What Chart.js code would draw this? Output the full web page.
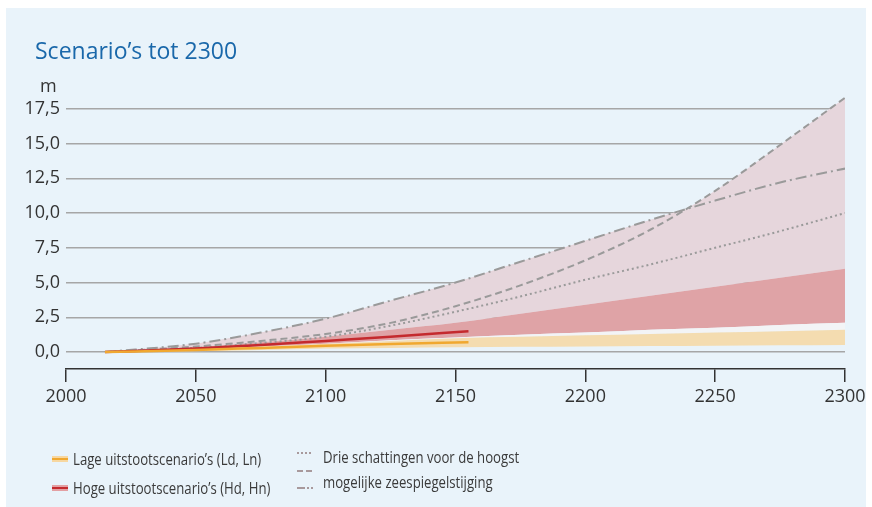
<!DOCTYPE html>
<html>
<head>
<meta charset="utf-8">
<script src="https://cdn.jsdelivr.net/npm/chart.js@4.4.0/dist/chart.umd.min.js"></script>
<style>
  body { margin: 0; background: #fff; }
  #panel { position: absolute; left: 6px; top: 8px; width: 860px; height: 499px; background: #e9f3fa; }
  #chart { position: absolute; left: 0; top: 0; }
  .txt { position: absolute; font-family: 'Open Sans', sans-serif; color: #333; white-space: nowrap; }
  #title { left: 35px; top: 39px; font-size: 23px; line-height: 23px; color: #1a68aa; }
  #unit { left: 40px; top: 76px; font-size: 18px; line-height: 18px; }
  .leg { font-size: 17px; line-height: 20px; color: #3a3a3a; transform: scaleX(0.775); transform-origin: left center; }
  .sw { position: absolute; width: 16px; }
</style>
</head>
<body>
<div id="panel"></div>
<canvas id="chart" width="872" height="507"></canvas>
<div class="txt" id="title">Scenario’s tot 2300</div>
<div class="txt" id="unit">m</div>

<div class="sw" style="left:52px;top:456px;height:6px;background:linear-gradient(#f7d7a0 0 30%,#f0a830 30% 70%,#f7d7a0 70%);"></div>
<div class="txt leg" style="left:73px;top:449px;">Lage uitstootscenario’s (Ld, Ln)</div>
<div class="sw" style="left:52px;top:485px;height:6px;background:linear-gradient(#e3a0a3 0 30%,#c42a2e 30% 70%,#e3a0a3 70%);"></div>
<div class="txt leg" style="left:73px;top:478px;">Hoge uitstootscenario’s (Hd, Hn)</div>

<div class="sw" style="left:297px;top:452px;height:2px;background:repeating-linear-gradient(90deg,#a8999c 0 2px,transparent 2px 4px);"></div>
<div class="sw" style="left:297px;top:470px;height:2px;background:repeating-linear-gradient(90deg,#a8999c 0 6px,transparent 6px 9px);"></div>
<div class="sw" style="left:297px;top:487px;height:2px;background:repeating-linear-gradient(90deg,#a8999c 0 8px,transparent 8px 10px,#a8999c 10px 12px,transparent 12px 14px);"></div>
<div class="txt leg" style="left:323px;top:447px;">Drie schattingen voor de hoogst</div>
<div class="txt leg" style="left:323px;top:472px;">mogelijke zeespiegelstijging</div>

<script>
// jaren en waarden (m)
const years = [2015, 2050, 2075, 2100, 2125, 2150, 2175, 2200, 2225, 2250, 2275, 2300];
const dotted = [0, 0.3, 0.65, 1.1, 1.9, 2.9, 4.0, 5.2, 6.3, 7.5, 8.7, 10.0];
const dashed = [0, 0.4, 0.8, 1.3, 2.1, 3.3, 4.8, 6.6, 8.8, 11.6, 14.9, 18.3];
const dashDot = [0, 0.6, 1.4, 2.4, 3.7, 5.0, 6.5, 8.0, 9.5, 10.9, 12.2, 13.2];

// banden hoge en lage scenario's
const hoogTop = [0, 0.35, 0.7, 1.1, 1.6, 2.1, 2.75, 3.4, 4.05, 4.7, 5.35, 6.0];
const hoogBodem = [0, 0.2, 0.4, 0.6, 0.85, 1.05, 1.25, 1.4, 1.6, 1.75, 1.95, 2.1];
const laagTop = [0, 0.2, 0.4, 0.6, 0.8, 1.0, 1.1, 1.2, 1.3, 1.4, 1.5, 1.6];
const laagBodem = [0, 0.05, 0.15, 0.25, 0.3, 0.35, 0.38, 0.4, 0.43, 0.45, 0.48, 0.5];

// doorgetrokken lijnen tot 2155
const lineYears = [2015, 2050, 2075, 2100, 2125, 2155];
const hoogLijn = [0, 0.25, 0.5, 0.8, 1.1, 1.5];
const laagLijn = [0, 0.15, 0.3, 0.45, 0.58, 0.7];

const yTicks = [0, 2.5, 5, 7.5, 10, 12.5, 15, 17.5];
const xTicks = [2000, 2050, 2100, 2150, 2200, 2250, 2300];

const pts = (xs, ys) => xs.map((x, i) => ({ x: x, y: ys[i] }));
const none = 'rgba(0,0,0,0)';
const grey = '#9a9a9a';
const pink = '#e6d6dc';

function band(data, color, fill, order) {
    return { data: pts(years, data), borderColor: none, borderWidth: 0, backgroundColor: color, fill: fill, order: order };
}

new Chart(document.getElementById('chart'), {
    type: 'line',
    data: {
        datasets: [
            { data: pts(lineYears, laagLijn), borderColor: '#f0a830', borderWidth: 2.5, fill: false, order: 0 },
            { data: pts(lineYears, hoogLijn), borderColor: '#c42a2e', borderWidth: 2.5, fill: false, order: 1 },
            band(laagTop, '#f4dcb0', 8, 2),
            band(hoogBodem, '#f3f4f6', 2, 3),
            band(hoogTop, '#dfa3a6', 3, 4),
            { data: pts(years, dotted), borderColor: grey, borderWidth: 2, borderDash: [2, 3], fill: false, order: 5 },
            { data: pts(years, dashDot), borderColor: grey, borderWidth: 2, borderDash: [11, 4, 2, 4], backgroundColor: pink, fill: 4, order: 6 },
            { data: pts(years, dashed), borderColor: grey, borderWidth: 2, borderDash: [7, 4], backgroundColor: pink, fill: 6, order: 7 },
            band(laagBodem, none, false, 8)
        ]
    },
    options: {
        responsive: false,
        animation: false,
        layout: { padding: { left: 26, right: 27, top: 88, bottom: 98 } },
        elements: {
            point: { radius: 0 },
            line: { cubicInterpolationMode: 'monotone' }
        },
        plugins: {
            legend: { display: false },
            tooltip: { enabled: false },
            filler: { drawTime: 'beforeDatasetsDraw' }
        },
        scales: {
            x: {
                type: 'linear',
                min: 2000,
                max: 2300,
                afterBuildTicks: s => { s.ticks = xTicks.map(v => ({ value: v })); },
                afterFit: s => { s.height = 40; s.paddingLeft = 0; s.paddingRight = 0; },
                ticks: {
                    callback: v => String(v),
                    color: '#333',
                    padding: 4,
                    font: { family: 'Open Sans', size: 18 }
                },
                grid: { drawOnChartArea: false, tickLength: 13, color: '#333', lineWidth: 1.5 },
                border: { color: '#333', width: 1.5 }
            },
            y: {
                min: -1.22,
                max: 19,
                afterBuildTicks: s => { s.ticks = yTicks.map(v => ({ value: v })); },
                afterFit: s => { s.width = 40; s.paddingTop = 0; s.paddingBottom = 0; },
                ticks: {
                    callback: v => v.toFixed(1).replace('.', ','),
                    color: '#333',
                    padding: 6,
                    font: { family: 'Open Sans', size: 18 }
                },
                grid: { color: '#a6a6a6', lineWidth: 1.5, drawTicks: false },
                border: { display: false }
            }
        }
    }
});
</script>
</body>
</html>
